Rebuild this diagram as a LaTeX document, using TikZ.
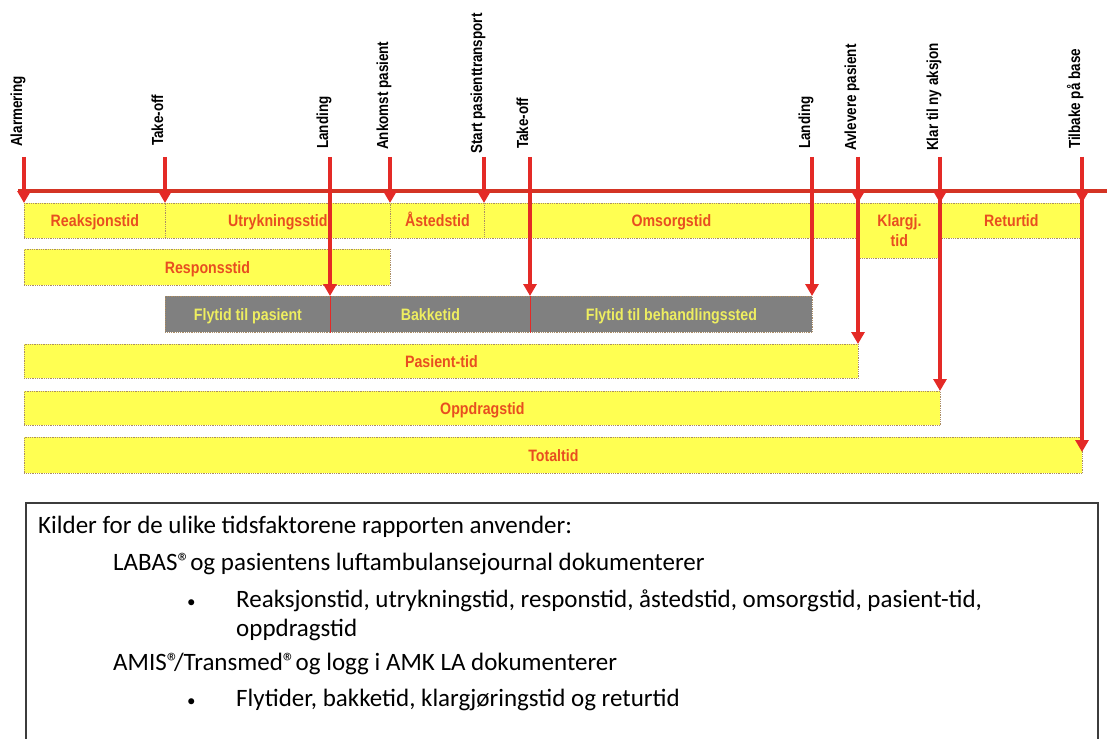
\documentclass[tikz,border=0pt]{standalone}
\usepackage{fontspec}
\setmainfont{Liberation Sans}
\newfontfamily\barfont{Liberation Sans}[FakeStretch=0.86]
\newfontfamily\labfont{Liberation Sans}[FakeStretch=0.84]
\newfontfamily\carlitofont{Carlito}
\usetikzlibrary{arrows.meta}
\definecolor{redarr}{RGB}{228,42,38}
\definecolor{redline}{RGB}{212,52,36}
\definecolor{ybar}{RGB}{255,255,82}
\definecolor{ytext}{RGB}{232,78,32}
\definecolor{gbar}{RGB}{128,128,128}
\definecolor{gtext}{RGB}{238,238,96}
\definecolor{bord}{RGB}{170,140,100}
\definecolor{boxline}{RGB}{60,60,60}
\newcommand{\regmk}{®\kern-0.22em}
\begin{document}
\begin{tikzpicture}[x=1pt,y=-1pt,
  barbase/.style={draw=bord, densely dotted, line width=0.8pt, anchor=north west, inner sep=0pt,
    font=\barfont\fontsize{16.5}{20}\selectfont\bfseries},
  ybox/.style={barbase, fill=ybar, text=ytext, text height=12pt, text depth=0pt},
  gbox/.style={barbase, fill=gbar, text=gtext, text height=12pt, text depth=0pt},
  tlabel/.style={rotate=90, anchor=base west, inner sep=0pt, font=\labfont\fontsize{16}{18}\selectfont\bfseries},
  arr/.style={draw=redarr, line width=4pt, -{Triangle[length=12pt,width=13pt]}},
  txt/.style={anchor=base west, inner sep=0pt, font=\carlitofont\fontsize{25}{29}\selectfont},
  bul/.style={anchor=base west, inner sep=0pt, font=\carlitofont\fontsize{17}{20}\selectfont}
]
\useasboundingbox (0,0) rectangle (1107,738);

% row 1
\node[ybox, minimum width=141pt, minimum height=35pt] (reak) at (24,203) {Reaksjonstid};
\node[ybox, minimum width=225pt, minimum height=35pt] (utr) at (165,203) {Utrykningsstid};
\node[ybox, minimum width=94pt, minimum height=35pt] (ast) at (390,203) {Åstedstid};
\node[ybox, minimum width=374pt, minimum height=35pt] (oms) at (484,203) {Omsorgstid};
\node[barbase, fill=ybar, text=ytext, align=center, text height=32pt, text depth=0pt,
      minimum width=82pt, minimum height=55pt] (klg) at (858,203) {Klargj.\\tid};
\node[ybox, minimum width=142pt, minimum height=35pt] (ret) at (940,203) {Returtid};
% row 2
\node[ybox, minimum width=366pt, minimum height=36pt] (resp) at (24,249) {Responsstid};
% row 3
\node[gbox, minimum width=165pt, minimum height=36pt] (fl1) at (165,296) {Flytid til pasient};
\node[gbox, minimum width=200pt, minimum height=36pt] (bak) at (330,296) {Bakketid};
\node[gbox, minimum width=282pt, minimum height=36pt] (fl2) at (530,296) {Flytid til behandlingssted};
\draw[redarr, line width=0.8pt] (fl1.north east) -- (fl1.south east);
\draw[redarr, line width=0.8pt] (bak.north east) -- (bak.south east);
% rows 4-6
\node[ybox, minimum width=834pt, minimum height=34pt] (pas) at (24,344) {Pasient-tid};
\node[ybox, minimum width=916pt, minimum height=34pt] (opp) at (24,391) {Oppdragstid};
\node[ybox, minimum width=1058pt, minimum height=36pt] (tot) at (24,437) {Totaltid};

% timeline
\coordinate (tlL) at (18,191);
\coordinate (tlR) at (1107,191);
\draw[draw=redline, line width=4pt] (tlL) -- (tlR);

% labels
\node[tlabel] (l1) at (22,147) {Alarmering};
\node[tlabel] (l2) at (163,146) {Take-off};
\node[tlabel] (l3) at (328,149) {Landing};
\node[tlabel] (l4) at (388,150) {Ankomst pasient};
\node[tlabel] (l5) at (482,154) {Start pasienttransport};
\node[tlabel] (l6) at (528,149) {Take-off};
\node[tlabel] (l7) at (810,149) {Landing};
\node[tlabel] (l8) at (856,151) {Avlevere pasient};
\node[tlabel] (l9) at (938,151) {Klar til ny aksjon};
\node[tlabel] (l10) at (1080,149) {Tilbake på base};

% arrow tops
\coordinate (a1) at (24,157);
\coordinate (a2) at (165,157);
\coordinate (a3) at (330,157);
\coordinate (a4) at (390,157);
\coordinate (a5) at (484,157);
\coordinate (a6) at (530,157);
\coordinate (a7) at (812,157);
\coordinate (a8) at (858,157);
\coordinate (a9) at (940,157);
\coordinate (a10) at (1082,157);
% heads on timeline
\coordinate (h1) at (24,203);
\coordinate (h2) at (165,203);
\coordinate (h4) at (390,203);
\coordinate (h5) at (484,203);
\coordinate (h8) at (858,203);
\coordinate (h9) at (940,203);
\coordinate (h10) at (1082,203);
\coordinate (e10) at (1082,452);

\draw[arr] (a1) -- (h1);
\draw[arr] (a2) -- (h2);
\draw[arr] (a4) -- (h4);
\draw[arr] (a5) -- (h5);
\draw[arr] (a3) -- (a3 |- fl1.north);
\draw[arr] (a6) -- (a6 |- fl2.north);
\draw[arr] (a7) -- (a7 |- fl2.north);
\draw[arr] (a8) -- (a8 |- pas.north);
\draw[arr] (a9) -- (a9 |- opp.north);
\draw[arr] (a10) -- (e10);
\draw[arr] (a8) -- (h8);
\draw[arr] (a9) -- (h9);
\draw[arr] (a10) -- (h10);

% bottom box
\node[draw=boxline, line width=1.5pt, anchor=north west, minimum width=1072pt, minimum height=260pt, inner sep=0pt] (src) at (25,502) {};
\node[txt] (s1) at (38,533) {Kilder for de ulike tidsfaktorene rapporten anvender:};
\node[txt] (s2) at (113,570) {LABAS\regmk{} og pasientens luftambulansejournal dokumenterer};
\node[bul] (b1) at (187,607) {•};
\node[txt] (s3) at (236,607) {Reaksjonstid, utrykningstid, responstid, åstedstid, omsorgstid, pasient-tid,};
\node[txt] (s4) at (236,636) {oppdragstid};
\node[txt] (s5) at (113,670) {AMIS\regmk/Transmed\regmk{} og logg i AMK LA dokumenterer};
\node[bul] (b2) at (187,706) {•};
\node[txt] (s6) at (236,706) {Flytider, bakketid, klargjøringstid og returtid};
\end{tikzpicture}
\end{document}
